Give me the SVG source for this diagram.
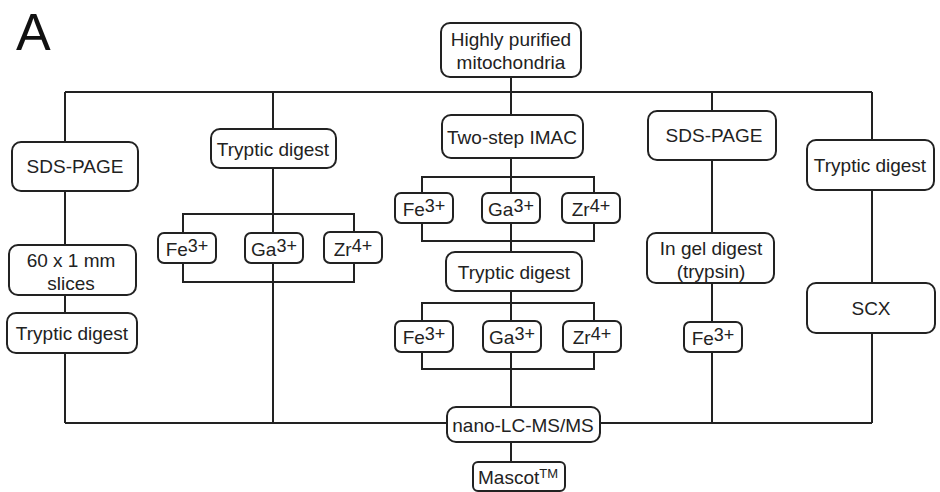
<svg xmlns="http://www.w3.org/2000/svg" width="940" height="492" viewBox="0 0 940 492">
<style>
.b{fill:#fff;stroke:#222;stroke-width:2}
.t{font-family:"Liberation Sans",Arial,sans-serif;font-size:19px;fill:#222;text-anchor:middle}
.c{fill:none;stroke:#222;stroke-width:2}
.s{font-size:18px}
</style>
<rect width="940" height="492" fill="#fff"/>
<text x="16" y="50" style="font-family:'Liberation Sans',Arial,sans-serif;font-size:52px;fill:#111">A</text>
<g id="connectors">
<path class="c" d="M65 92H872M511 77V193M65 92V423M273 92V423M712 92V423M872 92V423M65 423H872M511 223V407M511 442V462"/>
<path class="c" d="M183 233V214H354V233M183 263V282H354V263"/>
<path class="c" d="M422 193V177H594V193M422 223V241H594V223"/>
<path class="c" d="M422 321V303H594V321M422 352V369H594V352"/>
</g>
<g id="n_mito"><rect class="b" x="441" y="23" width="140" height="54" rx="9"/><text class="t" x="511" y="46">Highly purified</text><text class="t" x="511" y="69">mitochondria</text></g>
<g id="n_sds1"><rect class="b" x="12" y="142" width="126" height="49" rx="9"/><text class="t" x="75" y="173">SDS-PAGE</text></g>
<g id="n_slices"><rect class="b" x="9" y="245" width="127" height="50" rx="9"/><text class="t" x="71" y="267">60 x 1 mm</text><text class="t" x="71" y="290">slices</text></g>
<g id="n_tryp1"><rect class="b" x="7" y="313" width="130" height="40" rx="9"/><text class="t" x="72" y="340">Tryptic digest</text></g>
<g id="n_tryp2"><rect class="b" x="211" y="129" width="125" height="39" rx="9"/><text class="t" x="273" y="156">Tryptic digest</text></g>
<g id="n_fe2"><rect class="b" x="158" y="233" width="58" height="30" rx="6"/><text class="t" x="187" y="256">Fe<tspan class="s" dy="-4">3+</tspan></text></g>
<g id="n_ga2"><rect class="b" x="245" y="233" width="58" height="30" rx="6"/><text class="t" x="274" y="256">Ga<tspan class="s" dy="-4">3+</tspan></text></g>
<g id="n_zr2"><rect class="b" x="324" y="232" width="58" height="31" rx="6"/><text class="t" x="353" y="256">Zr<tspan class="s" dy="-4">4+</tspan></text></g>
<g id="n_imac"><rect class="b" x="442" y="115" width="141" height="43" rx="9"/><text class="t" x="512" y="144">Two-step IMAC</text></g>
<g id="n_fe3a"><rect class="b" x="395" y="193" width="58" height="30" rx="6"/><text class="t" x="424" y="216">Fe<tspan class="s" dy="-4">3+</tspan></text></g>
<g id="n_ga3a"><rect class="b" x="482" y="193" width="58" height="30" rx="6"/><text class="t" x="511" y="216">Ga<tspan class="s" dy="-4">3+</tspan></text></g>
<g id="n_zr3a"><rect class="b" x="562" y="193" width="58" height="30" rx="6"/><text class="t" x="591" y="216">Zr<tspan class="s" dy="-4">4+</tspan></text></g>
<g id="n_tryp3"><rect class="b" x="446" y="252" width="136" height="39" rx="9"/><text class="t" x="514" y="279">Tryptic digest</text></g>
<g id="n_fe3b"><rect class="b" x="395" y="321" width="58" height="31" rx="6"/><text class="t" x="424" y="344">Fe<tspan class="s" dy="-4">3+</tspan></text></g>
<g id="n_ga3b"><rect class="b" x="483" y="321" width="58" height="31" rx="6"/><text class="t" x="512" y="344">Ga<tspan class="s" dy="-4">3+</tspan></text></g>
<g id="n_zr3b"><rect class="b" x="563" y="321" width="58" height="31" rx="6"/><text class="t" x="592" y="344">Zr<tspan class="s" dy="-4">4+</tspan></text></g>
<g id="n_sds4"><rect class="b" x="648" y="111" width="128" height="49" rx="9"/><text class="t" x="714" y="142">SDS-PAGE</text></g>
<g id="n_ingel"><rect class="b" x="647" y="233" width="127" height="50" rx="9"/><text class="t" x="711" y="255">In gel digest</text><text class="t" x="711" y="278">(trypsin)</text></g>
<g id="n_fe4"><rect class="b" x="684" y="322" width="58" height="30" rx="6"/><text class="t" x="713" y="345">Fe<tspan class="s" dy="-4">3+</tspan></text></g>
<g id="n_tryp5"><rect class="b" x="807" y="140" width="127" height="50" rx="9"/><text class="t" x="870" y="172">Tryptic digest</text></g>
<g id="n_scx"><rect class="b" x="807" y="283" width="128" height="50" rx="9"/><text class="t" x="871" y="315">SCX</text></g>
<g id="n_nano"><rect class="b" x="447" y="407" width="153" height="35" rx="9"/><text class="t" x="523" y="432">nano-LC-MS/MS</text></g>
<g id="n_mascot"><rect class="b" x="473" y="462" width="92" height="29" rx="5"/><text class="t" x="518" y="484">Mascot<tspan style="font-size:13px" dy="-6">TM</tspan></text></g>
</svg>
